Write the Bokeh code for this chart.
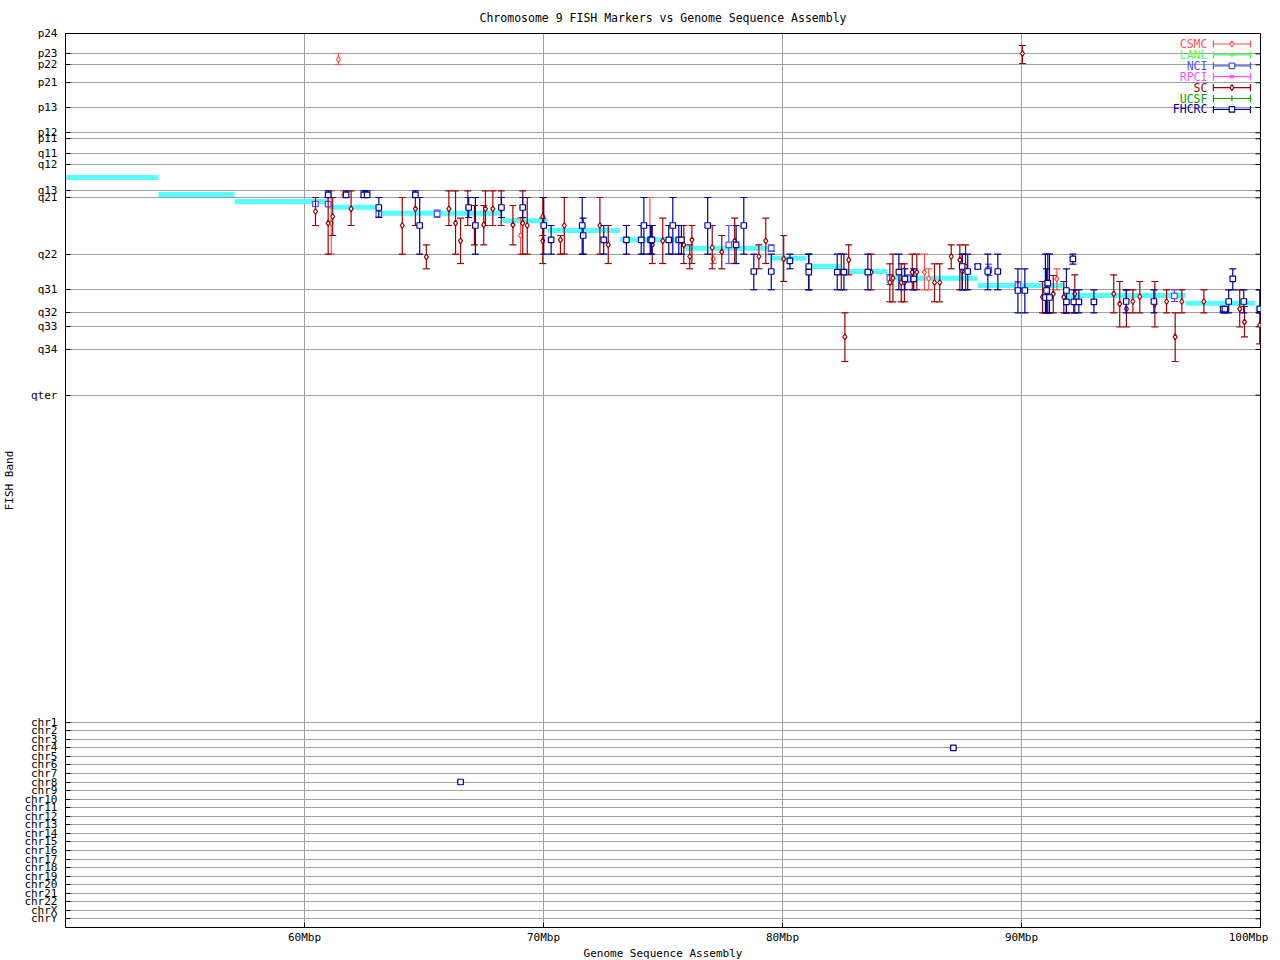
import math
from bokeh.plotting import figure
from bokeh.models import Range1d, FixedTicker
from bokeh.embed import file_html
from bokeh.resources import INLINE
from bokeh.core.properties import value

FONT = "DejaVu Sans Mono"

# ---------------- axis definitions ----------------
x_ticks = [60, 70, 80, 90, 100]
x_tick_labels = ["60Mbp", "70Mbp", "80Mbp", "90Mbp", "100Mbp"]

band_names = ["p24", "p23", "p22", "p21", "p13", "p12", "p11", "q11", "q12",
              "q13", "q21", "q22", "q31", "q32", "q33", "q34", "qter"]
band_pos = [32, 52.3, 63.3, 81.3, 106, 131.3, 137.3, 152.3, 163,
            189.3, 196.3, 252.7, 288.3, 311, 325.3, 348, 393.7]
chr_names = ["chr1", "chr2", "chr3", "chr4", "chr5", "chr6", "chr7", "chr8",
             "chr9", "chr10", "chr11", "chr12", "chr13", "chr14", "chr15",
             "chr16", "chr17", "chr18", "chr19", "chr20", "chr21", "chr22",
             "chrX", "chrY"]
chr_pos = [720.7, 729.2, 737.8, 746.3, 754.9, 763.4, 772.0, 780.5, 789.1,
           797.6, 806.2, 814.7, 823.3, 831.8, 840.4, 848.9, 857.5, 866.0,
           874.6, 883.1, 891.7, 900.2, 908.8, 917.3]

# ---------------- assembly band mapping (cyan steps) ----------------
asm_start = [50.0, 53.89, 57.07, 61.0, 63.1, 68.28, 70.17, 73.18, 75.9, 79.5,
             81.0, 82.43, 84.39, 88.16, 91.8, 96.86, 99.79]
asm_end = [53.89, 57.07, 61.0, 63.1, 68.28, 70.17, 73.18, 75.9, 79.5, 81.0,
           82.43, 84.39, 88.16, 91.8, 96.86, 99.79, 100.0]
asm_band = [176, 193, 200, 205.7, 211.7, 219.3, 229, 238.3, 246.7, 256.7,
            265, 270, 276.7, 284, 294, 301.7, 307.7]

# ---------------- FISH markers ----------------
csmc_x = [61.12, 61.64, 69.04, 74.45, 77.10, 85.94, 86.12, 91.48, 61.42]
csmc_y = [221.7, 193.3, 234, 238.3, 257.3, 270.7, 277, 277.3, 58]
csmc_lo = [189.3, 189.3, 216.7, 196, 252.7, 252.7, 267.3, 267.3, 52]
csmc_hi = [252.7, 196, 252.7, 252.7, 262, 288.3, 288.3, 288.3, 63]

lanl_x, lanl_y, lanl_lo, lanl_hi = [], [], [], []

nci_x = [60.46, 60.99, 63.11, 65.55, 77.75, 79.53, 84.49, 85.24, 88.63, 89.85, 96.40]
nci_y = [202.5, 202.7, 212.7, 212.3, 243.3, 246.7, 277, 277, 268.3, 284, 294.3]
nci_lo = [200.7, 201.3, 210.7, 208.7, 224, 243.3, 273, 273.3, 262.7, 280, 288.3]
nci_hi = [204.3, 204, 214.7, 216, 262, 250, 283, 280.7, 274, 288.3, 300]

rpci_x, rpci_y, rpci_lo, rpci_hi = [], [], [], []

sc_x = [60.46, 60.99, 61.18, 61.95, 64.09, 64.64, 65.10, 66.04, 66.32, 66.53,
        66.83, 67.11, 67.50, 67.57, 67.88, 68.23, 68.72, 69.13, 69.32, 69.97,
        69.97, 70.71, 70.87, 72.36, 72.71, 74.55, 74.99, 75.87, 76.12, 76.21,
        77.06, 77.46, 78.00, 79.01, 79.30, 80.05, 82.46, 82.61, 82.77, 83.71,
        84.49, 84.62, 84.97, 85.10, 85.43, 85.62, 86.36, 86.58, 87.06, 87.42,
        87.52, 87.66, 90.88, 91.33, 91.77, 92.23, 93.86, 94.11, 94.39, 94.66,
        94.95, 95.58, 96.07, 96.43, 96.71, 97.63, 99.13, 99.33, 99.97, 90.04]
sc_y = [210, 221.7, 215, 207.3, 224, 207.3, 255.3, 207.3, 221.7, 239.3,
        206.7, 224, 223.3, 207.3, 207.3, 207.3, 223.3, 221.7, 224, 215,
        239.3, 238.3, 224, 224, 243.3, 243.3, 239.3, 243.3, 255, 238.3,
        246, 250.3, 239.3, 255, 239.3, 257.3, 270.7, 335.3, 258.3, 270.7,
        281, 276.7, 281, 281, 270.7, 270.7, 281, 281, 255, 258.3,
        270, 265, 295.7, 292.3, 295.7, 292.3, 292.3, 302.3, 307.3, 300,
        295, 302.3, 300, 335.3, 300, 300, 307.3, 320.3, 323.7, 52]
sc_lo = [196, 196, 196, 189.3, 196, 196, 243.3, 189.3, 189.3, 216.7,
         189.3, 204, 204, 189.3, 189.3, 189.3, 204, 189.3, 196, 196,
         216.7, 234, 196, 196, 224, 224, 216.7, 224, 243.3, 224,
         224, 234, 216.7, 243.3, 216.7, 234, 252.7, 311.3, 243.3, 252.7,
         262.3, 252.7, 262.3, 262.3, 252.7, 252.7, 262.3, 262.3, 243.3, 243.3,
         252.7, 243.3, 280, 274, 280, 273.3, 273.3, 280, 288.3, 288.3,
         280, 280, 288.3, 311.3, 288.3, 288.3, 288.3, 305, 311.3, 44]
sc_hi = [224, 252.7, 234, 224, 252.7, 224, 267.3, 224, 252.7, 262,
         224, 243.3, 243.3, 224, 224, 224, 243.3, 252.7, 252.7, 234,
         262, 252.7, 252.7, 252.7, 262, 262, 262, 262, 267.3, 262,
         267.3, 267.3, 262, 267.3, 262, 280, 288.3, 360, 273.3, 288.3,
         300.3, 300.3, 300.3, 300.3, 288.3, 288.3, 300.3, 300.3, 267.3, 288.3,
         288.3, 288.3, 311.3, 311.3, 311.3, 311.3, 311.3, 325.5, 325.5, 311.3,
         311.3, 325.5, 311.3, 360, 311.3, 311.3, 325.5, 335.3, 342.3, 62]

ucsf_x, ucsf_y, ucsf_lo, ucsf_hi = [], [], [], []

fhcrc_x = [60.99, 61.74, 62.48, 62.62, 63.11, 64.64, 64.82, 66.87, 67.15, 68.24,
           69.13, 70.01, 70.32, 71.62, 71.66, 72.52, 73.47, 74.09, 74.20, 74.48,
           74.53, 75.24, 75.41, 75.66, 75.77, 76.87, 78.06, 78.38, 78.80, 79.53,
           80.31, 81.10, 81.10, 82.29, 82.57, 83.57, 84.87, 85.12, 85.49, 87.52,
           87.75, 88.17, 88.59, 89.01, 89.85, 90.14, 91.00, 91.05, 91.10, 91.17,
           91.88, 91.88, 92.15, 92.19, 92.40, 93.03, 94.38, 95.54, 98.44, 98.51,
           98.67, 98.84, 99.30, 99.97, 66.53, 87.15]
fhcrc_y = [193.3, 193.3, 193.3, 193.3, 206, 193.3, 224, 206, 224, 206,
           206, 224, 238.3, 224, 234, 238.3, 238.3, 238.3, 224, 238.3,
           238.3, 238.3, 224, 238.3, 238.3, 224, 243.3, 224, 270, 270,
           259.3, 265, 270.7, 270.7, 270.7, 270.7, 270.7, 277.3, 277.3, 265,
           270, 265, 270, 270, 289, 289, 296, 289, 281.7, 296,
           289, 300.3, 257.3, 300.3, 300.3, 300.3, 300, 300, 307.7, 307.7,
           300, 277.3, 300, 307.3, 780.5, 746.3]
fhcrc_lo = [189.3, 189.3, 189.3, 189.3, 196, 189.3, 196, 196, 196, 196,
            196, 196, 224, 196, 216.7, 224, 224, 224, 196, 224,
            224, 224, 196, 224, 224, 196, 224, 196, 252.7, 252.7,
            252.7, 252.7, 252.7, 252.7, 252.7, 252.7, 252.7, 267.3, 267.3, 252.7,
            252.7, 262.7, 252.7, 252.7, 267.3, 267.3, 252.7, 267.3, 252.7, 252.7,
            267.3, 288.3, 252.7, 288.3, 288.3, 288.3, 288.3, 288.3, 305, 305,
            288.3, 267.3, 288.3, 288.3, 780.5, 746.3]
fhcrc_hi = [196, 196, 196, 196, 216, 196, 252.7, 216, 252.7, 216,
            216, 252.7, 252.7, 252.7, 252.7, 252.7, 252.7, 252.7, 252.7, 252.7,
            252.7, 252.7, 252.7, 252.7, 252.7, 252.7, 262, 252.7, 288.3, 288.3,
            267.3, 288.3, 288.3, 288.3, 288.3, 288.3, 288.3, 288.3, 288.3, 288.3,
            288.3, 267.3, 288.3, 288.3, 311.3, 311.3, 311.3, 311.3, 311.3, 311.3,
            311.3, 311.3, 262.7, 311.3, 311.3, 311.3, 311.3, 311.3, 311.3, 311.3,
            311.3, 288.3, 311.3, 311.3, 780.5, 746.3]

# ---------------- legend ----------------
lab_names = ["CSMC", "LANL", "NCI", "RPCI", "SC", "UCSF", "FHCRC"]
lab_colors = ["#ff5050", "#50ff50", "#5050ff", "#ff50ff", "#a00000", "#00a000", "#0000a0"]
lab_markers = ["diamond", "cross", "square", "x", "diamond", "cross", "square"]
lab_data = [(csmc_x, csmc_y, csmc_lo, csmc_hi), (lanl_x, lanl_y, lanl_lo, lanl_hi),
            (nci_x, nci_y, nci_lo, nci_hi), (rpci_x, rpci_y, rpci_lo, rpci_hi),
            (sc_x, sc_y, sc_lo, sc_hi), (ucsf_x, ucsf_y, ucsf_lo, ucsf_hi),
            (fhcrc_x, fhcrc_y, fhcrc_lo, fhcrc_hi)]
legend_rows = [42.5, 53.4, 64.3, 75.2, 86.1, 97.0, 107.9]
legend_text_x = 97.78
legend_line_x0 = 98.03
legend_line_x1 = 99.58

# ---------------- figure ----------------
p = figure(width=1268, height=962, x_range=Range1d(50, 100), y_range=Range1d(926, 32),
           output_backend="svg", toolbar_location=None,
           title="Chromosome 9 FISH Markers vs Genome Sequence Assembly",
           min_border_left=57, min_border_right=8, min_border_top=32, min_border_bottom=0)
p.background_fill_color = "white"
p.border_fill_color = "white"
p.outline_line_color = "black"
p.outline_line_width = 1

p.title.align = "center"
p.title.text_font = FONT
p.title.text_font_size = "11.5px"
p.title.text_font_style = "normal"
p.title.text_color = "black"
p.title.standoff = 17

y_all_ticks = band_pos + chr_pos
y_overrides = {}
for v, n in zip(band_pos + chr_pos, band_names + chr_names):
    y_overrides[v] = n
x_overrides = {v: n for v, n in zip(x_ticks, x_tick_labels)}

xa = p.xaxis[0]
xa.ticker = FixedTicker(ticks=x_ticks)
xa.major_label_overrides = x_overrides
xa.axis_label = "Genome Sequence Assembly"
ya = p.yaxis[0]
ya.ticker = FixedTicker(ticks=y_all_ticks)
ya.major_label_overrides = y_overrides
ya.axis_label = "FISH Band"
for ax in (xa, ya):
    ax.major_tick_in = 5
    ax.major_tick_out = 0
    ax.minor_tick_line_color = None
    ax.axis_line_color = "black"
    ax.major_tick_line_color = "black"
    ax.major_label_text_font = FONT
    ax.major_label_text_font_size = "11px"
    ax.major_label_text_color = "black"
    ax.axis_label_text_font = FONT
    ax.axis_label_text_font_size = "11px"
    ax.axis_label_text_font_style = "normal"
    ax.axis_label_text_color = "black"
xa.major_label_standoff = 3
xa.axis_label_standoff = 0
ya.major_label_standoff = 8
ya.axis_label_standoff = 5

p.xgrid.ticker = FixedTicker(ticks=x_ticks)
p.ygrid.ticker = FixedTicker(ticks=y_all_ticks)
for g in (p.xgrid, p.ygrid):
    g.grid_line_color = "#a0a0a0"
    g.grid_line_width = 1

# mirrored ticks on the right frame edge
p.segment(x0=[99.79] * len(y_all_ticks), y0=y_all_ticks, x1=[100] * len(y_all_ticks), y1=y_all_ticks,
          line_color="black", line_width=1)

# assembly steps
p.segment(x0=asm_start, y0=asm_band, x1=asm_end, y1=asm_band,
          line_color="#55ffff", line_width=5)

# markers with error bars
for name, color, mk, (xs, ys, los, his) in zip(lab_names, lab_colors, lab_markers, lab_data):
    if not xs:
        continue
    p.segment(x0=xs, y0=los, x1=xs, y1=his, line_color=color, line_width=1.2)
    p.scatter(xs, los, marker="dash", size=7, line_color=color, line_width=1.2)
    p.scatter(xs, his, marker="dash", size=7, line_color=color, line_width=1.2)
    p.scatter(xs, ys, marker=mk, size=6 if mk == "diamond" else 5.5,
              line_color=color, fill_color="white", line_width=1.2)

# legend
for i, (name, color, mk) in enumerate(zip(lab_names, lab_colors, lab_markers)):
    yrow = legend_rows[i]
    p.text(x=[legend_text_x], y=[yrow], text=[name], text_color=color,
           text_font=value(FONT), text_font_size="11.5px",
           text_align="right", text_baseline="middle")
    p.segment(x0=[legend_line_x0], y0=[yrow], x1=[legend_line_x1], y1=[yrow],
              line_color=color, line_width=1.2)
    p.scatter([legend_line_x0, legend_line_x1], [yrow, yrow], marker="dash", angle=math.pi / 2,
              size=7, line_color=color, line_width=1.2)
    p.scatter([(legend_line_x0 + legend_line_x1) / 2], [yrow], marker=mk,
              size=6 if mk == "diamond" else 5.5, line_color=color, fill_color="white", line_width=1.2)

open("out.html", "w").write(file_html(p, INLINE))
